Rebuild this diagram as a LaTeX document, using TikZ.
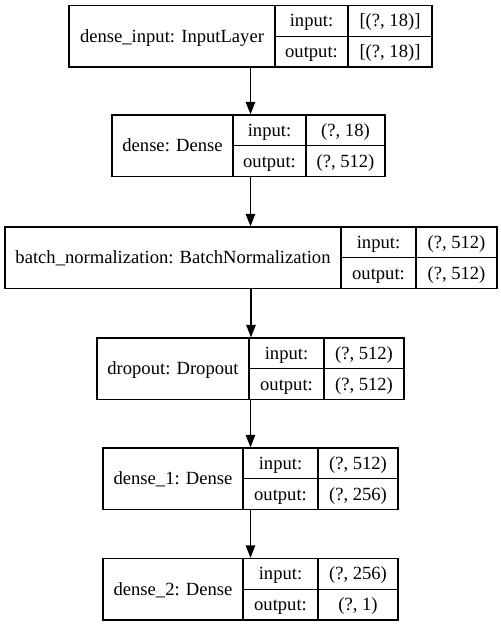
\documentclass[tikz,border=0pt]{standalone}
\usepackage{fontspec}
\setmainfont{Liberation Serif}
\usetikzlibrary{arrows.meta}

% one layer: name, left, split1, split2, right, top, title, input, output
\newcommand{\layerbox}[9]{%
  \node [cellbox, minimum width={(#5-#2)*1pt}] (#1) at ({(#2+#5)/2},{#6+30.75}) {};
  \draw [cellline] (#3,#6) -- (#3,#6+61.5);
  \draw [cellline] (#4,#6) -- (#4,#6+61.5);
  \draw [cellline] (#3,#6+30.75) -- (#5,#6+30.75);
  \node [celltext] (#1-name) at ({(#2+#3)/2},{#6+30.75}) {#7};
  \node [celltext] (#1-inkey) at ({(#3+#4)/2},{#6+15.4}) {input:};
  \node [celltext] (#1-outkey) at ({(#3+#4)/2},{#6+46.1}) {output:};
  \node [celltext] (#1-inval) at ({(#4+#5)/2},{#6+15.4}) {#8};
  \node [celltext] (#1-outval) at ({(#4+#5)/2},{#6+46.1}) {#9};
}

\begin{document}
\begin{tikzpicture}[x=1pt, y=-1pt,
cellbox/.style={rectangle, draw=black, line width=1.33pt, minimum height=61.5pt, inner sep=0pt},
cellline/.style={draw=black, line width=1.33pt},
celltext/.style={inner sep=0pt, text height=12pt, text depth=0pt, font=\fontsize{18.6}{22}\selectfont},
flow/.style={draw=black, line width=1.33pt, -{Triangle[length=12.5pt, width=9.5pt]}}
]
    \useasboundingbox (0,0) rectangle (501,627);

    \layerbox{inp}{69}{275}{348}{432}{5.5}{dense\_input: InputLayer}{[(?, 18)]}{[(?, 18)]}
    \layerbox{d0}{112}{233}{306}{385}{115}{dense: Dense}{(?, 18)}{(?, 512)}
    \layerbox{bn}{5}{341}{416}{497}{227}{batch\_normalization: BatchNormalization}{(?, 512)}{(?, 512)}
    \layerbox{drop}{97}{249}{324}{404}{338}{dropout: Dropout}{(?, 512)}{(?, 512)}
    \layerbox{d1}{103}{243}{318}{398}{448}{dense\_1: Dense}{(?, 512)}{(?, 256)}
    \layerbox{d2}{103}{243}{318}{398}{558.5}{dense\_2: Dense}{(?, 256)}{(?, 1)}

    \draw [flow] (inp.south) -- (inp.south |- d0.north);
    \draw [flow] (inp.south |- d0.south) -- (inp.south |- bn.north);
    \draw [flow] (bn.south) -- (bn.south |- drop.north);
    \draw [flow] (inp.south |- drop.south) -- (inp.south |- d1.north);
    \draw [flow] (d1.south) -- (d1.south |- d2.north);
\end{tikzpicture}
\end{document}
